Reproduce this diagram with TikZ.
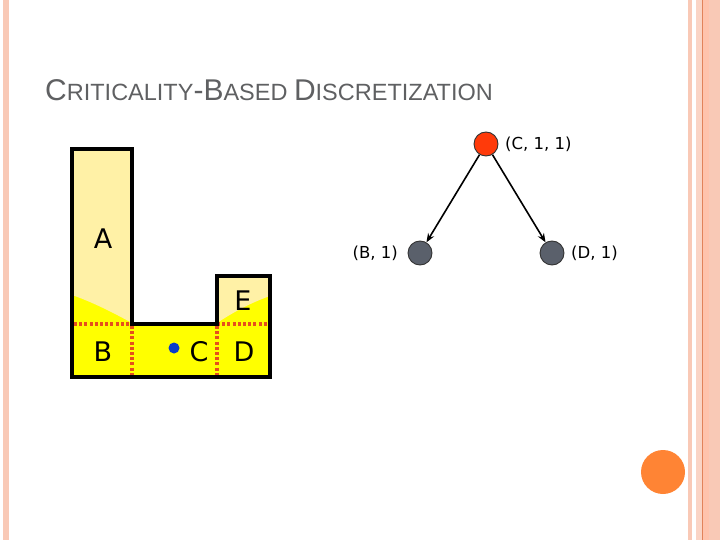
\documentclass[tikz,border=0pt]{standalone}
\usepackage{fontspec}
\setmainfont{Liberation Sans}
\newfontfamily\lblfont{DejaVu Sans}
\usetikzlibrary{arrows.meta}
\definecolor{stripe}{HTML}{F9C9B6}
\definecolor{stripeB}{HTML}{FFC3AC}
\definecolor{stripeL}{HTML}{E2835A}
\definecolor{ylw}{HTML}{FFFF00}
\definecolor{lylw}{HTML}{FFF1A6}
\definecolor{dotred}{HTML}{E6501C}
\definecolor{titlegray}{HTML}{5F6062}
\definecolor{rednode}{HTML}{FF3A0A}
\definecolor{graynode}{HTML}{5A606B}
\definecolor{orangec}{HTML}{FF8434}
\definecolor{bluedot}{HTML}{0A3CC8}
\tikzset{
  treenode/.style={circle,draw=black!80,line width=0.9pt,minimum size=24pt,inner sep=0pt},
  treelbl/.style={font=\lblfont\fontsize{16.5}{18}\selectfont,inner sep=0pt},
  region/.style={font=\lblfont\fontsize{27}{30}\selectfont,inner sep=0pt},
  divider/.style={dotred,line width=3.6pt,dash pattern=on 3pt off 2.2pt},
  treearrow/.style={line width=1.6pt,-{Stealth[length=9pt,width=7pt]}},
}
\begin{document}
\begin{tikzpicture}[x=1pt,y=-1pt]
\useasboundingbox (0,0) rectangle (720,540);
% border stripes
\fill[stripe] (3,0) rectangle (9,540);
\fill[stripe] (688,0) rectangle (692,540);
\fill[stripe!80!white] (696,0) rectangle (720,540);
\fill[stripeB] (703,0) rectangle (709,540);
\fill[stripe] (709,0) rectangle (720,540);
\draw[stripeL,line width=0.9pt] (702.5,0) -- (702.5,540);
% title
\node[anchor=base west,inner sep=0pt,text=titlegray] (title) at (45,101)
  {\fontsize{30}{32}\selectfont C\fontsize{23.5}{26}\selectfont RITICALITY\fontsize{30}{32}\selectfont -B\fontsize{23.5}{26}\selectfont ASED \fontsize{30}{32}\selectfont D\fontsize{23.5}{26}\selectfont ISCRETIZATION};
% L shape fills
\fill[ylw] (72,149) -- (132,149) -- (132,324) -- (217,324) -- (217,276) -- (270,276) -- (270,377) -- (72,377) -- cycle;
\fill[lylw] (72,149) -- (132,149) -- (132,323) .. controls (112,312) and (92,302) .. (72,295) -- cycle;
\fill[lylw] (217,276) -- (270,276) -- (270,296) .. controls (250,303) and (232,313) .. (217,323) -- cycle;
% dividers
\draw[divider] (74,324) -- (132,324);
\draw[divider] (217,324) -- (268,324);
\draw[divider] (132,326) -- (132,376);
\draw[divider] (217,326) -- (217,376);
% outline
\draw[black,line width=3.6pt,line join=miter] (72,149) -- (132,149) -- (132,324) -- (217,324) -- (217,276) -- (270,276) -- (270,377) -- (72,377) -- cycle;
% region labels
\node[region] (A) at (103,239) {A};
\node[region] (B) at (103,352) {B};
\node[region] (C) at (199,352) {C};
\node[region] (D) at (244,352) {D};
\node[region] (E) at (243,301) {E};
\fill[bluedot] (174,348) circle (5.5);
% tree
\node[treenode,fill=rednode] (r) at (486,144) {};
\node[treenode,fill=graynode] (b) at (420,253) {};
\node[treenode,fill=graynode] (d) at (552,253) {};
\node[treelbl,anchor=west] (rl) at (505,144) {(C, 1, 1)};
\node[treelbl,anchor=east] (bl) at (398,253) {(B, 1)};
\node[treelbl,anchor=west] (dl) at (571,253) {(D, 1)};
\draw[treearrow] (r) -- (b);
\draw[treearrow] (r) -- (d);
% decorative circle
\fill[orangec] (663,472) circle (22);
\end{tikzpicture}
\end{document}
